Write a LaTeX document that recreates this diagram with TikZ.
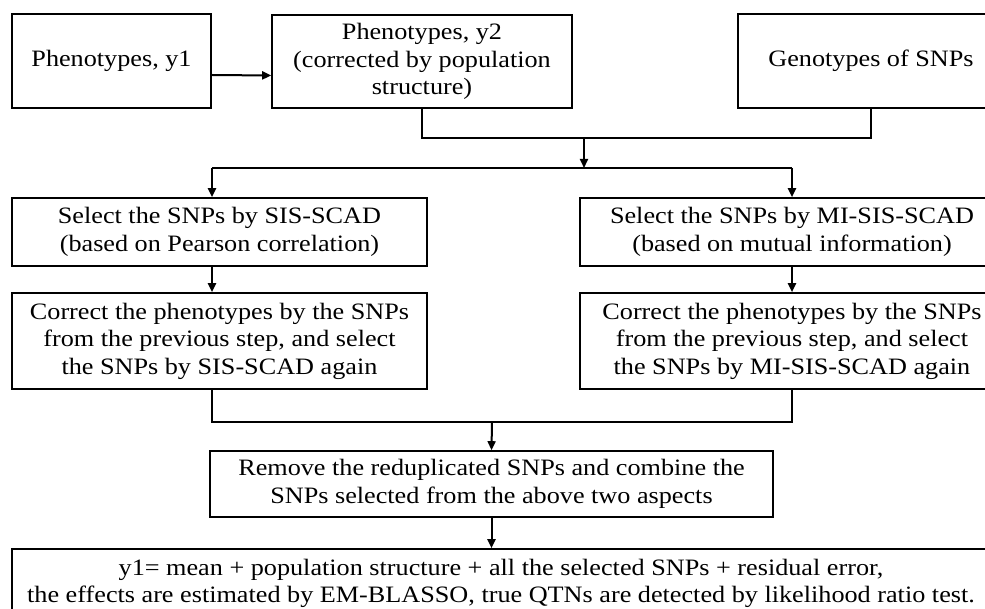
\documentclass[tikz,border=0pt]{standalone}
\usepackage{fontspec}
\setmainfont[FakeStretch=1.115]{Liberation Serif}
\usetikzlibrary{arrows.meta,calc}
\begin{document}
\begin{tikzpicture}[x=1pt,y=-1pt,
  box/.style={draw,line width=1.6pt,inner sep=0pt,align=center,font=\fontsize{23.5}{27.5}\selectfont},
  txt/.style={inner sep=0pt,align=center,font=\fontsize{23.5}{27.5}\selectfont},
  arr/.style={line width=2pt,-{Triangle[length=9pt,width=8pt]}},
  link/.style={line width=2.6pt}]
\useasboundingbox (0,0) rectangle (985,609);
\fill[white] (0,0) rectangle (985,609);
\clip (0,0) rectangle (985,609);
% top row
\node[box,minimum width=199pt,minimum height=94pt] (A) at (111.5,61) {Phenotypes, y1};
\node[box,minimum width=300pt,minimum height=93pt] (B) at (422,61.5) {Phenotypes, y2\\(corrected by population\\structure)};
\node[box,minimum width=266pt,minimum height=94pt] (C) at (871,61) {Genotypes of SNPs};
\draw[arr] ([yshift=-14pt]A.east) -- ([yshift=-14pt]B.west);
\coordinate (j) at (584,138);
\coordinate (br) at (584,168);
\draw[link] (B.south) |- (j) -| (C.south);
\draw[arr] (j) -- (br);
% selection boxes
\node[box,minimum width=415pt,minimum height=68pt] (S1) at (219.5,232) {Select the SNPs by SIS-SCAD\\(based on Pearson correlation)};
\node[box,minimum width=424pt,minimum height=68pt] (S2) at (792,232) {Select the SNPs by MI-SIS-SCAD\\(based on mutual information)};
\coordinate (bl) at (212,168);
\coordinate (brr) at (792,168);
\draw[link] (bl) -- (brr);
\draw[arr] (bl) -- (bl |- S1.north);
\draw[arr] (brr) -- (S2.north);
% correction boxes
\node[box,minimum width=415pt,minimum height=96pt] (K1) at (219.5,341) {Correct the phenotypes by the SNPs\\from the previous step, and select\\the SNPs by SIS-SCAD again};
\node[box,minimum width=424pt,minimum height=96pt] (K2) at (792,341) {Correct the phenotypes by the SNPs\\from the previous step, and select\\the SNPs by MI-SIS-SCAD again};
\draw[arr] (S1.south -| bl) -- (K1.north -| bl);
\draw[arr] (S2.south) -- (K2.north);
% merge
\coordinate (ml) at (212,422);
\coordinate (mr) at (792,422);
\coordinate (m) at (492,422);
\draw[link] (K1.south -| ml) -- (ml) -- (mr) -- (K2.south);
\node[box,minimum width=563pt,minimum height=66pt] (R) at (491.5,484) {Remove the reduplicated SNPs and combine the\\SNPs selected from the above two aspects};
\draw[arr] (m) -- (R.north);
% final
\node[box,minimum width=988pt,minimum height=72pt] (F) at (506,585) {};
\node[txt] (Ft) at (501,583.5) {y1= mean + population structure + all the selected SNPs + residual error,\\the effects are estimated by EM-BLASSO, true QTNs are detected by likelihood ratio test.};
\draw[arr] (R.south) -- (R.south |- F.north);
\end{tikzpicture}
\end{document}
